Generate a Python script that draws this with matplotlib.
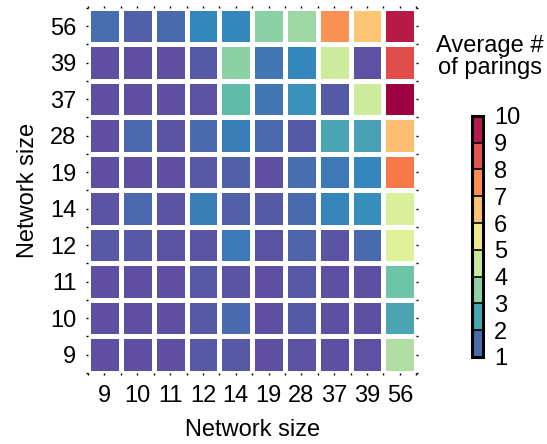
import numpy as np
import matplotlib
matplotlib.use('Agg')
import matplotlib.pyplot as plt
from matplotlib.colors import ListedColormap, BoundaryNorm

plt.rcParams['font.family'] = ['Liberation Sans', 'DejaVu Sans']

sizes = ['9', '10', '11', '12', '14', '19', '28', '37', '39', '56']

# average number of parings, rows from bottom (9) to top (56)
row_9 = [1.0, 1.0, 1.0, 1.15, 1.15, 1.0, 1.05, 1.0, 1.05, 3.8]
row_10 = [1.0, 1.0, 1.0, 1.15, 1.45, 1.0, 1.2, 1.0, 1.0, 2.35]
row_11 = [1.0, 1.0, 1.0, 1.15, 1.1, 1.0, 1.15, 1.0, 1.0, 2.9]
row_12 = [1.15, 1.15, 1.1, 1.1, 1.7, 1.1, 1.35, 1.1, 1.45, 4.5]
row_14 = [1.1, 1.4, 1.1, 1.75, 1.3, 1.2, 1.45, 1.85, 2.0, 4.4]
row_19 = [1.0, 1.0, 1.0, 1.15, 1.3, 1.0, 1.5, 1.7, 1.9, 8.0]
row_28 = [1.0, 1.4, 1.1, 1.45, 1.75, 1.4, 1.2, 2.35, 2.3, 7.0]
row_37 = [1.0, 1.0, 1.0, 1.05, 2.7, 1.6, 2.05, 1.2, 4.2, 10.0]
row_39 = [1.0, 1.0, 1.0, 1.2, 3.3, 1.6, 1.9, 4.2, 1.05, 8.8]
row_56 = [1.5, 1.3, 1.45, 1.9, 1.9, 3.25, 3.5, 7.7, 6.9, 9.6]

data = np.array([row_9, row_10, row_11, row_12, row_14,
                 row_19, row_28, row_37, row_39, row_56])

# colours of the discrete legend bar, 1-2 up to 9-10
bar_colors = ['#4a6aae', '#4aa4b2', '#8dd2a4', '#cbe99d', '#f2ea91',
              '#fdc171', '#f9904f', '#e4584a', '#b51b4b']

cmap = plt.get_cmap('Spectral_r')

fig = plt.figure(figsize=(5.47, 4.44), dpi=100)
ax = fig.add_axes([0.161, 0.160, 0.600, 0.822])
ax.pcolormesh(data, cmap=cmap, vmin=1, vmax=10,
              edgecolors='white', linewidth=3.5)
ax.set_xlim(0, 10)
ax.set_ylim(0, 10)

for s in ax.spines.values():
    s.set_visible(False)

ax.set_xticks(np.arange(10) + 0.5)
ax.set_yticks(np.arange(10) + 0.5)
ax.set_xticks(np.arange(11), minor=True)
ax.set_yticks(np.arange(11), minor=True)
ax.set_xticklabels(sizes, fontsize=17)
ax.set_yticklabels(sizes, fontsize=17)
ax.tick_params(which='both', length=1.5, width=1, top=True, right=True,
               pad=7)
ax.set_xlabel('Network size', fontsize=17, labelpad=9)
ax.set_ylabel('Network size', fontsize=17, labelpad=8)

# discrete colorbar 1..10
bounds = np.arange(1, 11)
cb_cmap = ListedColormap(bar_colors)
norm = BoundaryNorm(bounds, cb_cmap.N)
cax = fig.add_axes([0.862, 0.196, 0.021, 0.543])
sm = plt.cm.ScalarMappable(norm=norm, cmap=cb_cmap)
cb = fig.colorbar(sm, cax=cax, boundaries=bounds, ticks=bounds,
                  drawedges=True)
cb.outline.set_linewidth(2.2)
cb.dividers.set_linewidth(1.2)
cb.ax.tick_params(length=0, labelsize=17, pad=8)

fig.text(0.896, 0.872, 'Average #\nof parings', ha='center', va='center',
         fontsize=17, linespacing=1.0)

fig.savefig('out.png', dpi=100)
